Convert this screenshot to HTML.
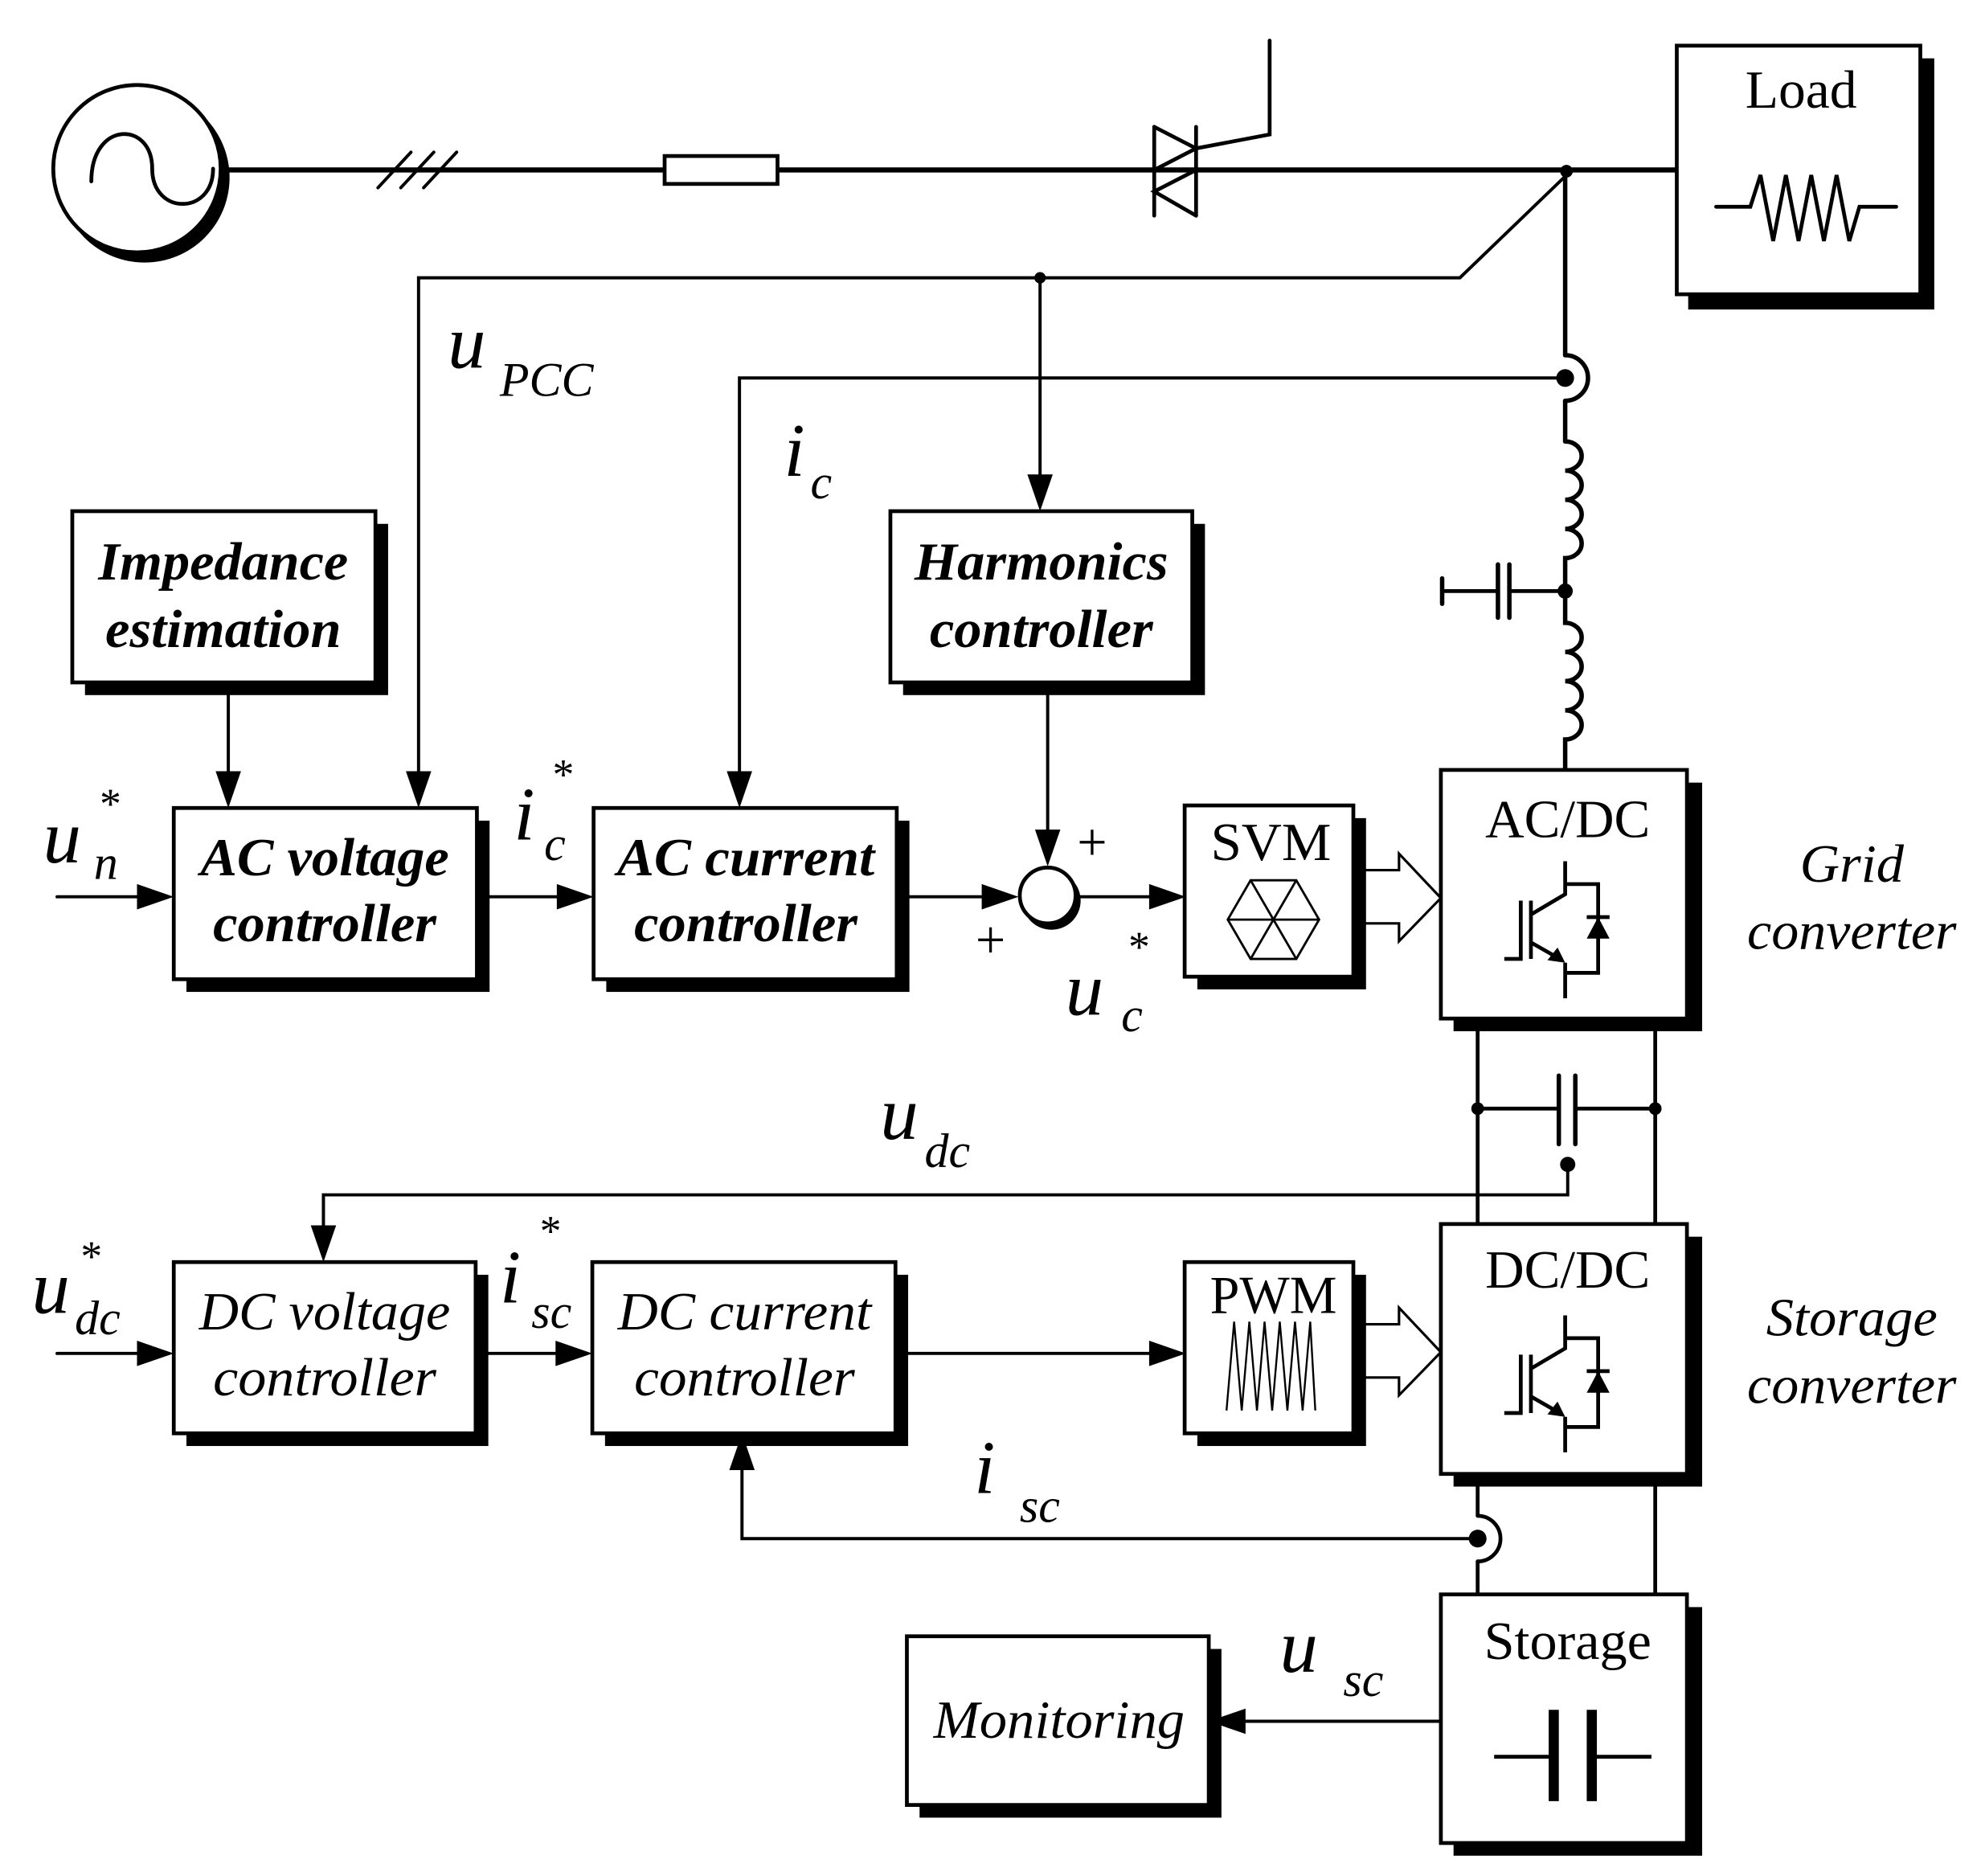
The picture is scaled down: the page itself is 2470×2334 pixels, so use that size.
<!DOCTYPE html>
<html><head><meta charset="utf-8"><style>html,body{margin:0;padding:0;background:#fff}svg{display:block}</style></head>
<body>
<svg xmlns="http://www.w3.org/2000/svg" width="2470" height="2334" viewBox="0 0 1565 1479" preserveAspectRatio="none">
<rect x="0" y="0" width="1565" height="1479" fill="#fff"/>
<g fill="none" stroke="#000" stroke-linecap="round" stroke-linejoin="miter">
<circle cx="114" cy="140" r="67" fill="#000" stroke="none"/>
<circle cx="108" cy="133" r="66" fill="#fff" stroke-width="3"/>
<path d="M72 143 C72 95 120 95 120 133 C120 170 168 170 168 133" stroke-width="3"/>
<line x1="178" y1="134" x2="910" y2="134" stroke-width="4"/>
<line x1="943" y1="134" x2="1321" y2="134" stroke-width="4"/>
<line x1="298" y1="148" x2="324" y2="120" stroke-width="2.5"/>
<line x1="316" y1="148" x2="342" y2="120" stroke-width="2.5"/>
<line x1="334" y1="148" x2="360" y2="120" stroke-width="2.5"/>
<rect x="524" y="123" width="89" height="22" fill="#fff" stroke-width="3"/>
<line x1="910" y1="100" x2="910" y2="170" stroke-width="3"/>
<line x1="943" y1="100" x2="943" y2="170" stroke-width="3"/>
<path d="M910 100 L943 117 L910 134" stroke-width="3"/>
<path d="M943 134 L910 151 L943 170" stroke-width="3"/>
<path d="M943 117 L1001 106 L1001 32" stroke-width="3"/>
<line x1="910" y1="134" x2="943" y2="134" stroke-width="4"/>
<rect x="1331" y="46" width="194" height="198" fill="#000" stroke="none"/>
<rect x="1322" y="36" width="192" height="196" fill="#fff" stroke-width="3"/>
<path d="M1353 163 L1380 163 L1388 138 L1398 190 L1408 138 L1418 190 L1428 138 L1438 190 L1448 138 L1458 190 L1466 163 L1495 163" stroke-width="3"/>
<circle cx="1235" cy="135" r="5" fill="#000" stroke="none"/>
<path d="M1233 140 L1151 219 L330 219 L330 610" stroke-width="2.5"/>
<circle cx="820" cy="219" r="4.5" fill="#000" stroke="none"/>
<line x1="820" y1="219" x2="820" y2="378" stroke-width="2.5"/>
<line x1="1234" y1="135" x2="1234" y2="280" stroke-width="3.5"/>
<path d="M1234 280 A18 18 0 0 1 1234 316" stroke-width="3.5"/>
<line x1="1234" y1="316" x2="1234" y2="348" stroke-width="3.5"/>
<circle cx="1234" cy="298" r="7" fill="#000" stroke="none"/>
<path d="M1234 298 L583 298 L583 610" stroke-width="2.5"/>
<path d="M1234 348 a13 11.5 0 0 1 0 23 a13 11.5 0 0 1 0 23 a13 11.5 0 0 1 0 23 a13 11.5 0 0 1 0 23 L1234 491 a13 11.5 0 0 1 0 23 a13 11.5 0 0 1 0 23 a13 11.5 0 0 1 0 23 a13 11.5 0 0 1 0 23 L1234 608" stroke-width="3.5"/>
<circle cx="1234" cy="466" r="6" fill="#000" stroke="none"/>
<line x1="1190" y1="466" x2="1234" y2="466" stroke-width="3"/>
<line x1="1137" y1="466" x2="1181" y2="466" stroke-width="3"/>
<line x1="1181" y1="445" x2="1181" y2="487" stroke-width="3.5"/>
<line x1="1190" y1="445" x2="1190" y2="487" stroke-width="3.5"/>
<line x1="1137" y1="456" x2="1137" y2="476" stroke-width="3.5"/>
<line x1="1165" y1="803" x2="1165" y2="965" stroke-width="3"/>
<line x1="1305" y1="803" x2="1305" y2="965" stroke-width="3"/>
<line x1="1165" y1="874" x2="1229" y2="874" stroke-width="3"/>
<line x1="1242" y1="874" x2="1305" y2="874" stroke-width="3"/>
<line x1="1229" y1="848" x2="1229" y2="902" stroke-width="3.5"/>
<line x1="1242" y1="848" x2="1242" y2="902" stroke-width="3.5"/>
<circle cx="1165" cy="874" r="5" fill="#000" stroke="none"/>
<circle cx="1305" cy="874" r="5" fill="#000" stroke="none"/>
<circle cx="1236" cy="918" r="6" fill="#000" stroke="none"/>
<path d="M1236 918 L1236 942 L255 942 L255 970" stroke-width="2.5"/>
<line x1="1305" y1="1162" x2="1305" y2="1257" stroke-width="3"/>
<line x1="1165" y1="1162" x2="1165" y2="1195" stroke-width="3"/>
<path d="M1165 1195 A18 18 0 0 1 1165 1231" stroke-width="3"/>
<line x1="1165" y1="1231" x2="1165" y2="1257" stroke-width="3"/>
<circle cx="1165" cy="1213" r="7" fill="#000" stroke="none"/>
<path d="M1165 1213 L585 1213 L585 1158" stroke-width="2.5"/>
<line x1="180" y1="538" x2="180" y2="610" stroke-width="2.5"/>
<line x1="826" y1="538" x2="826" y2="656" stroke-width="2.5"/>
<line x1="45" y1="707" x2="110" y2="707" stroke-width="2.5"/>
<line x1="376" y1="707" x2="440" y2="707" stroke-width="2.5"/>
<line x1="707" y1="707" x2="776" y2="707" stroke-width="2.5"/>
<line x1="849" y1="707" x2="907" y2="707" stroke-width="2.5"/>
<line x1="45" y1="1067" x2="110" y2="1067" stroke-width="2.5"/>
<line x1="375" y1="1067" x2="440" y2="1067" stroke-width="2.5"/>
<line x1="706" y1="1067" x2="907" y2="1067" stroke-width="2.5"/>
<line x1="1136" y1="1357" x2="980" y2="1357" stroke-width="2.5"/>
</g>
<g fill="#000" stroke="none">
<polygon points="170,608 190,608 180,637"/>
<polygon points="320,608 340,608 330,637"/>
<polygon points="573,608 593,608 583,637"/>
<polygon points="810,374 830,374 820,403"/>
<polygon points="816,654 836,654 826,683"/>
<polygon points="108,697 108,717 137,707"/>
<polygon points="439,697 439,717 468,707"/>
<polygon points="774,697 774,717 803,707"/>
<polygon points="906,697 906,717 935,707"/>
<polygon points="245,966 265,966 255,995"/>
<polygon points="108,1057 108,1077 137,1067"/>
<polygon points="438,1057 438,1077 467,1067"/>
<polygon points="906,1057 906,1077 935,1067"/>
<polygon points="575,1159 595,1159 585,1130"/>
<polygon points="982,1347 982,1367 953,1357"/>
</g>
<circle cx="829" cy="710" r="23" fill="#000"/>
<circle cx="826" cy="706" r="22" fill="#fff" stroke="#000" stroke-width="3"/>
<g stroke="#000" stroke-width="3">
<rect x="67" y="413" width="239" height="135" fill="#000" stroke="none"/>
<rect x="57" y="403" width="239" height="135" fill="#fff"/>
<rect x="712" y="413" width="238" height="135" fill="#000" stroke="none"/>
<rect x="702" y="403" width="238" height="135" fill="#fff"/>
<rect x="147" y="647" width="239" height="135" fill="#000" stroke="none"/>
<rect x="137" y="637" width="239" height="135" fill="#fff"/>
<rect x="478" y="647" width="239" height="135" fill="#000" stroke="none"/>
<rect x="468" y="637" width="239" height="135" fill="#fff"/>
<rect x="944" y="645" width="133" height="135" fill="#000" stroke="none"/>
<rect x="934" y="635" width="133" height="135" fill="#fff"/>
<rect x="1146" y="617" width="196" height="196" fill="#000" stroke="none"/>
<rect x="1136" y="607" width="194" height="196" fill="#fff"/>
<rect x="147" y="1005" width="238" height="135" fill="#000" stroke="none"/>
<rect x="137" y="995" width="238" height="135" fill="#fff"/>
<rect x="477" y="1005" width="239" height="135" fill="#000" stroke="none"/>
<rect x="467" y="995" width="239" height="135" fill="#fff"/>
<rect x="944" y="1005" width="133" height="135" fill="#000" stroke="none"/>
<rect x="934" y="995" width="133" height="135" fill="#fff"/>
<rect x="1146" y="975" width="196" height="197" fill="#000" stroke="none"/>
<rect x="1136" y="965" width="194" height="197" fill="#fff"/>
<rect x="1146" y="1267" width="196" height="196" fill="#000" stroke="none"/>
<rect x="1136" y="1257" width="194" height="196" fill="#fff"/>
<rect x="725" y="1300" width="238" height="133" fill="#000" stroke="none"/>
<rect x="715" y="1290" width="238" height="133" fill="#fff"/>
</g>
<g stroke="#000" stroke-width="1.8" fill="none">
<polygon points="968,725 986,694 1022,694 1040,725 1022,756 986,756"/>
<line x1="968" y1="725" x2="1040" y2="725"/>
<line x1="986" y1="694" x2="1022" y2="756"/>
<line x1="1022" y1="694" x2="986" y2="756"/>
<polyline points="967,1112 973,1042 979,1112 985,1042 991,1112 997,1042 1003,1112 1009,1042 1015,1112 1021,1042 1027,1112 1033,1042 1037,1112" stroke-width="1.5"/>
<path d="M1076 686 L1103 686 L1103 673 L1136 708 L1103 742 L1103 728 L1076 728" stroke-width="2"/>
<path d="M1076 1044 L1103 1044 L1103 1031 L1136 1066 L1103 1100 L1103 1086 L1076 1086" stroke-width="2"/>
</g>
<g transform="translate(1136,607)" stroke="#000" stroke-width="3" fill="none">
<path d="M98 72 L98 98 L71 114"/><path d="M98 90 L124 90 L124 160 L98 160"/>
<line x1="71" y1="103" x2="71" y2="149"/><path d="M63 103 L63 149 L50 149"/>
<path d="M71 136 L92 148"/><polygon points="98,152 84,150 92,140" fill="#000" stroke="none"/>
<line x1="98" y1="152" x2="98" y2="180"/>
<polygon points="115,133 133,133 124,116" fill="#000" stroke="none"/>
<line x1="115" y1="116" x2="133" y2="116"/>
</g>
<g transform="translate(1136,965)" stroke="#000" stroke-width="3" fill="none">
<path d="M98 72 L98 98 L71 114"/><path d="M98 90 L124 90 L124 160 L98 160"/>
<line x1="71" y1="103" x2="71" y2="149"/><path d="M63 103 L63 149 L50 149"/>
<path d="M71 136 L92 148"/><polygon points="98,152 84,150 92,140" fill="#000" stroke="none"/>
<line x1="98" y1="152" x2="98" y2="180"/>
<polygon points="115,133 133,133 124,116" fill="#000" stroke="none"/>
<line x1="115" y1="116" x2="133" y2="116"/>
</g>
<g stroke="#000" fill="none">
<line x1="1178" y1="1385" x2="1225" y2="1385" stroke-width="3"/>
<line x1="1255" y1="1385" x2="1302" y2="1385" stroke-width="3"/>
<line x1="1225" y1="1348" x2="1225" y2="1420" stroke-width="8"/>
<line x1="1255" y1="1348" x2="1255" y2="1420" stroke-width="8"/>
</g>
<g font-family="'Liberation Serif', serif" fill="#000" text-anchor="middle">
<g font-weight="bold" font-style="italic" font-size="42">
<text x="176" y="457" textLength="197" lengthAdjust="spacingAndGlyphs">Impedance</text>
<text x="176" y="510" textLength="186" lengthAdjust="spacingAndGlyphs">estimation</text>
<text x="821" y="457" textLength="200" lengthAdjust="spacingAndGlyphs">Harmonics</text>
<text x="821" y="510" textLength="176" lengthAdjust="spacingAndGlyphs">controller</text>
<text x="256" y="690" textLength="196" lengthAdjust="spacingAndGlyphs">AC voltage</text>
<text x="256" y="742" textLength="176" lengthAdjust="spacingAndGlyphs">controller</text>
<text x="588" y="690" textLength="203" lengthAdjust="spacingAndGlyphs">AC current</text>
<text x="588" y="742" textLength="176" lengthAdjust="spacingAndGlyphs">controller</text>
</g>
<g font-style="italic" font-size="42">
<text x="256" y="1048" textLength="198" lengthAdjust="spacingAndGlyphs">DC voltage</text>
<text x="256" y="1100" textLength="176" lengthAdjust="spacingAndGlyphs">controller</text>
<text x="587" y="1048" textLength="200" lengthAdjust="spacingAndGlyphs">DC current</text>
<text x="587" y="1100" textLength="174" lengthAdjust="spacingAndGlyphs">controller</text>
<text x="835" y="1370" textLength="198" lengthAdjust="spacingAndGlyphs">Monitoring</text>
<text x="1460" y="695" textLength="82" lengthAdjust="spacingAndGlyphs">Grid</text>
<text x="1460" y="748" textLength="165" lengthAdjust="spacingAndGlyphs">converter</text>
<text x="1460" y="1053" textLength="135" lengthAdjust="spacingAndGlyphs">Storage</text>
<text x="1460" y="1106" textLength="165" lengthAdjust="spacingAndGlyphs">converter</text>
</g>
<g font-size="42">
<text x="1420" y="85" textLength="88" lengthAdjust="spacingAndGlyphs">Load</text>
<text x="1002" y="678" textLength="95" lengthAdjust="spacingAndGlyphs">SVM</text>
<text x="1236" y="660" textLength="130" lengthAdjust="spacingAndGlyphs">AC/DC</text>
<text x="1236" y="1015" textLength="130" lengthAdjust="spacingAndGlyphs">DC/DC</text>
<text x="1236" y="1308" textLength="132" lengthAdjust="spacingAndGlyphs">Storage</text>
<text x="1004" y="1035" textLength="100" lengthAdjust="spacingAndGlyphs">PWM</text>
</g>
<g font-size="42">
<text x="861" y="678">+</text>
<text x="781" y="755">+</text>
</g>
</g>
<g font-family="'Liberation Serif', serif" font-style="italic" fill="#000">
<text x="353" y="290" font-size="60">u</text>
<text x="394" y="312" font-size="38">PCC</text>
<text x="618" y="375" font-size="60">i</text>
<text x="639" y="393" font-size="38">c</text>
<text x="34" y="680" font-size="60">u</text>
<text x="74" y="693" font-size="38">n</text>
<text x="77" y="645" font-size="34">*</text>
<text x="405" y="662" font-size="60">i</text>
<text x="429" y="678" font-size="38">c</text>
<text x="434" y="622" font-size="34">*</text>
<text x="840" y="800" font-size="60">u</text>
<text x="884" y="813" font-size="38">c</text>
<text x="888" y="758" font-size="34">*</text>
<text x="694" y="898" font-size="60">u</text>
<text x="729" y="920" font-size="38">dc</text>
<text x="25" y="1035" font-size="60">u</text>
<text x="59" y="1052" font-size="38">dc</text>
<text x="62" y="1002" font-size="34">*</text>
<text x="394" y="1027" font-size="60">i</text>
<text x="419" y="1047" font-size="38">sc</text>
<text x="424" y="982" font-size="34">*</text>
<text x="768" y="1177" font-size="60">i</text>
<text x="804" y="1200" font-size="38">sc</text>
<text x="1009" y="1318" font-size="60">u</text>
<text x="1059" y="1337" font-size="38">sc</text>
</g>
</svg>
</body></html>
